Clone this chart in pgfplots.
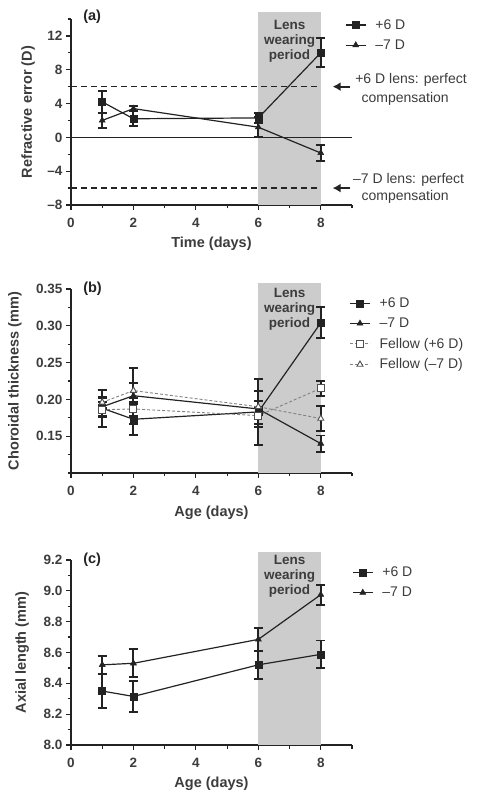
\documentclass[border=0pt]{standalone}
\usepackage{fontspec}
\setmainfont{Liberation Sans}
\usepackage{pgfplots}
\pgfplotsset{compat=1.18}
\usetikzlibrary{arrows.meta}
\definecolor{band}{RGB}{204,204,204}
\definecolor{ink}{RGB}{35,35,35}
\definecolor{txt}{RGB}{60,60,60}
\definecolor{fel}{RGB}{130,130,130}
\tikzset{
  lens/.style={font=\fontsize{13.5}{15}\selectfont\bfseries, text=txt, align=center, anchor=north, inner sep=0pt},
  plab/.style={font=\fontsize{14.5}{16}\selectfont\bfseries, text=ink, anchor=west, inner sep=0pt},
  note/.style={font=\fontsize{14}{16}\selectfont, text=txt, anchor=west, inner sep=0pt},
}
\pgfplotsset{
  panel/.style={
    scale only axis, width=281pt,
    xmin=0, xmax=9, xtick={0,2,4,6,8}, minor xtick={1,3,5,7,9},
    axis x line*=bottom, axis y line*=left,
    tick align=outside, major tick length=5pt, minor tick length=3.5pt,
    every tick/.style={line width=1.2pt, color=ink},
    axis line style={line width=1.2pt, ink, -},
    ticklabel style={font=\fontsize{13.5}{15}\selectfont\bfseries, text=txt},
    xticklabel style={yshift=-5pt},
    label style={font=\fontsize{14.5}{16}\selectfont\bfseries, text=txt},
    /pgf/number format/assume math mode=true,
    clip=false,
    legend style={draw=none, fill=none, font=\fontsize{14}{16}\selectfont, text=txt,
      anchor=north west, row sep=5pt, inner sep=0pt,
      /tikz/every odd column/.append style={column sep=7pt}},
    legend cell align=left,
    legend image code/.code={\draw[mark repeat=2,mark phase=2] plot coordinates {(0pt,0pt) (10pt,0pt) (20pt,0pt)};},
  },
  eb/.style={error bars/y dir=both, error bars/y explicit,
    error bars/error bar style={line width=1.9pt, ink, solid},
    error bars/error mark options={rotate=90, mark size=4.5pt, line width=1.9pt, ink}},
  main/.style={ink, line width=1.2pt, mark options={solid, fill=ink, line width=0.5pt}, eb},
  fellow/.style={fel, line width=0.9pt, dash pattern=on 3pt off 2pt,
    mark options={solid, fill=white, draw=ink!80, line width=0.9pt}, eb},
}
\begin{document}
\begin{tikzpicture}
\path[use as bounding box] (0,0) rectangle (487pt,801pt);
% ---------------- (a)
\begin{axis}[panel, at={(71pt,596pt)}, anchor=south west, height=186pt,
  ymin=-8, ymax=14, ytick={-8,-4,0,4,8,12}, yticklabels={–8,–4,0,4,8,12},
  minor ytick={-6,-2,2,6,10,14},
  xlabel={Time (days)}, ylabel={Refractive error (D)},
  xlabel style={at={(axis description cs:0.5,-0.21)}, anchor=center},
  ylabel style={at={(axis description cs:-0.153,0.5)}, anchor=center},
  legend style={at={(axis description cs:0.975,1.01)}}]
\fill[band] (axis cs:6,-8) rectangle (axis cs:8,14.83);
\draw[ink, line width=1.2pt] (axis cs:0,0) -- (axis cs:9,0);
\draw[ink, line width=1.5pt, dash pattern=on 6pt off 4pt] (axis cs:0,6) -- (axis cs:8,6);
\draw[ink, line width=1.5pt, dash pattern=on 6pt off 4pt] (axis cs:0,-6) -- (axis cs:8,-6);
\draw[ink, line width=1.8pt, -{Latex[length=8pt,width=9pt]}] (axis cs:8.95,6) -- (axis cs:8.38,6);
\draw[ink, line width=1.8pt, -{Latex[length=8pt,width=9pt]}] (axis cs:8.95,-6) -- (axis cs:8.38,-6);
\node[lens] at (axis cs:7,13.85) {Lens\\wearing\\period};
\node[plab] at (rel axis cs:0.043,1.01) {(a)};
\node[note] at (axis cs:9.1,6.79) {+6 D lens: perfect};
\node[note] at (axis cs:9.3,4.54) {compensation};
\node[note] at (axis cs:9.03,-5.04) {–7 D lens: perfect};
\node[note] at (axis cs:9.3,-7.05) {compensation};
\addplot+[main, mark=square*, mark size=3.5pt] coordinates {
 (1,4.2) +- (0,1.3) (2,2.2) +- (0,0.9) (6,2.3) +- (0,0.6) (8,10.0) +- (0,1.7)};
\addplot+[main, mark=triangle*, mark size=3.5pt] coordinates {
 (1,2.0) +- (0,0.85) (2,3.4) +- (0,0.3) (6,1.2) +- (0,1.2) (8,-1.85) +- (0,0.9)};
\legend{+6 D, –7 D}
\end{axis}
% ---------------- (b)
\begin{axis}[panel, at={(71pt,328pt)}, anchor=south west, height=184pt,
  ymin=0.10, ymax=0.35, ytick={0.15,0.20,0.25,0.30,0.35},
  yticklabels={0.15,0.20,0.25,0.30,0.35},
  minor ytick={0.10,0.125,0.175,0.225,0.275,0.325},
  xlabel={Age (days)}, ylabel={Choroidal thickness (mm)},
  xlabel style={at={(axis description cs:0.5,-0.217)}, anchor=center},
  ylabel style={at={(axis description cs:-0.2,0.5)}, anchor=center},
  legend style={at={(axis description cs:0.99,0.965)}}]
\fill[band] (axis cs:6,0.10) rectangle (axis cs:8,0.358);
\node[lens] at (axis cs:7,0.352) {Lens\\wearing\\period};
\node[plab] at (rel axis cs:0.043,1.0) {(b)};
\addplot+[main, mark=square*, mark size=3.5pt] coordinates {
 (1,0.188) +- (0,0.025) (2,0.173) +- (0,0.021) (6,0.183) +- (0,0.045) (8,0.304) +- (0,0.021)};
\addplot+[main, mark=triangle*, mark size=3.5pt] coordinates {
 (1,0.190) +- (0,0.012) (2,0.205) +- (0,0.038) (6,0.187) +- (0,0.025) (8,0.140) +- (0,0.011)};
\addplot+[fellow, mark=square*, mark size=3.5pt] coordinates {
 (1,0.186) +- (0,0.010) (2,0.187) +- (0,0.010) (6,0.178) +- (0,0.012) (8,0.215) +- (0,0.010)};
\addplot+[fellow, mark=triangle*, mark size=3.5pt] coordinates {
 (1,0.196) +- (0,0.008) (2,0.212) +- (0,0.010) (6,0.190) +- (0,0.008) (8,0.174) +- (0,0.0165)};
\legend{+6 D, –7 D, Fellow (+6 D), Fellow (–7 D)}
\end{axis}
% ---------------- (c)
\begin{axis}[panel, at={(71pt,56pt)}, anchor=south west, height=185pt,
  ymin=8.0, ymax=9.2, ytick={8.0,8.2,8.4,8.6,8.8,9.0,9.2},
  yticklabels={8.0,8.2,8.4,8.6,8.8,9.0,9.2},
  minor ytick={8.1,8.3,8.5,8.7,8.9,9.1},
  xlabel={Age (days)}, ylabel={Axial length (mm)},
  xlabel style={at={(axis description cs:0.5,-0.21)}, anchor=center},
  ylabel style={at={(axis description cs:-0.174,0.5)}, anchor=center},
  legend style={at={(axis description cs:1.0,0.975)}}]
\fill[band] (axis cs:6,8.0) rectangle (axis cs:8,9.254);
\node[lens] at (axis cs:7,9.23) {Lens\\wearing\\period};
\node[plab] at (rel axis cs:0.043,1.0) {(c)};
\addplot+[main, mark=square*, mark size=3.5pt] coordinates {
 (1,8.35) +- (0,0.11) (2,8.315) +- (0,0.10) (6,8.52) +- (0,0.093) (8,8.588) +- (0,0.09)};
\addplot+[main, mark=triangle*, mark size=3.5pt] coordinates {
 (1,8.52) +- (0,0.06) (2,8.53) +- (0,0.09) (6,8.685) +- (0,0.075) (8,8.975) +- (0,0.065)};
\legend{+6 D, –7 D}
\end{axis}
\end{tikzpicture}
\end{document}
